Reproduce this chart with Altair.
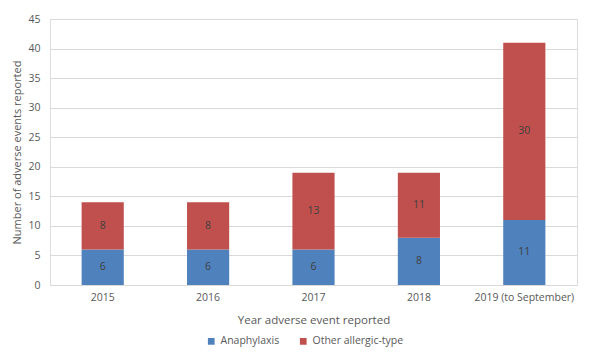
import altair as alt
import pandas as pd

years = ["2015", "2016", "2017", "2018", "2019 (to September)"]
anaphylaxis = [6, 6, 6, 8, 11]
other = [8, 8, 13, 11, 30]
series = ["Anaphylaxis", "Other allergic-type"]

rows = []
for i, y in enumerate(years):
    rows.append({"year": y, "series": series[0], "value": anaphylaxis[i], "order": 0})
    rows.append({"year": y, "series": series[1], "value": other[i], "order": 1})
df = pd.DataFrame(rows)

FONT = "Open Sans"
GRAY = "#595959"

xaxis = alt.Axis(labelAngle=0, ticks=False, domainColor="#D9D9D9",
                 labelColor=GRAY, titleColor=GRAY, labelFontSize=10.5,
                 titleFontSize=11.5, titleFontWeight="normal",
                 labelPadding=7, titlePadding=12, labelFont=FONT, titleFont=FONT)
yaxis = alt.Axis(values=[0, 5, 10, 15, 20, 25, 30, 35, 40, 45], domain=False, ticks=False,
                 gridColor="#D9D9D9", labelColor=GRAY, titleColor=GRAY,
                 labelFontSize=10.5, titleFontSize=11, titleFontWeight="normal",
                 labelPadding=10, titlePadding=5, labelFont=FONT, titleFont=FONT)
xscale = alt.Scale(paddingInner=0.6, paddingOuter=0.3)
yscale = alt.Scale(domain=[0, 45])
XT = "Year adverse event reported"
YT = "Number of adverse events reported"

bars = alt.Chart(df).mark_bar().encode(
    x=alt.X("year:N", sort=years, title=XT, scale=xscale, axis=xaxis),
    y=alt.Y("value:Q", stack="zero", title=YT, scale=yscale, axis=yaxis),
    order=alt.Order("order:Q"),
    color=alt.Color("series:N", sort=series,
                    scale=alt.Scale(domain=series, range=["#4F81BD", "#C0504D"]),
                    legend=alt.Legend(title=None, orient="none", direction="horizontal",
                                      legendX=156, legendY=317, symbolType="square",
                                      symbolSize=45, labelFontSize=10.5, labelColor=GRAY,
                                      labelFont=FONT, columnPadding=18, symbolStrokeWidth=0)),
)

labels = alt.Chart(df).mark_text(font=FONT, fontSize=10.5, color="#404040").encode(
    x=alt.X("year:N", sort=years, title=XT, scale=xscale, axis=xaxis),
    y=alt.Y("mid:Q", title=YT, scale=yscale, axis=yaxis),
    text="value:Q",
).transform_stack(
    stack="value", groupby=["year"], as_=["lo", "hi"], sort=[alt.SortField("order")]
).transform_calculate(mid="(datum.lo + datum.hi) / 2")

chart = (bars + labels).properties(
    width=527, height=266,
    autosize=alt.AutoSizeParams(type="none"),
    padding={"left": 42, "top": 11, "right": 7, "bottom": 67},
).configure_view(stroke=None).configure(background="white")

chart.save("out.html", embed_options={"renderer": "svg", "actions": False})
